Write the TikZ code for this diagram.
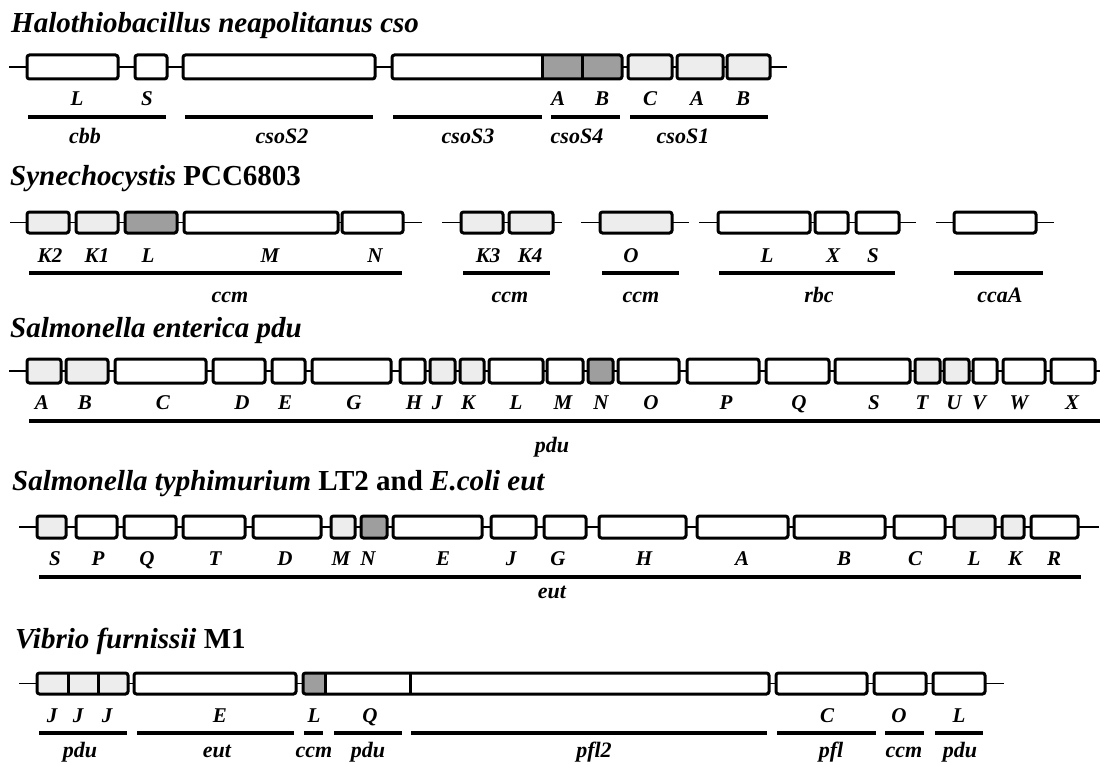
\documentclass[tikz,border=0pt]{standalone}
\usepackage{fontspec}
\setmainfont{Liberation Serif}
\usepackage{tikz}
\definecolor{shelllight}{gray}{0.93}
\definecolor{shelldark}{gray}{0.62}

\tikzset{
  genebox/.style={draw, line width=3pt, rounded corners=2.5pt, fill=white},
  backbone/.style={line width=1.5pt},
  opbar/.style={line width=4pt},
  genelbl/.style={anchor=base, inner sep=0pt, font=\fontsize{21}{24}\selectfont\bfseries\itshape},
  grplbl/.style={anchor=base, inner sep=0pt, font=\fontsize{22}{25}\selectfont\bfseries\itshape},
  orgtitle/.style={anchor=base west, inner sep=0pt, font=\fontsize{29}{33}\selectfont\bfseries}
}

\begin{document}
\begin{tikzpicture}[x=1pt, y=-1pt]
  \useasboundingbox (0,0) rectangle (1100,765);

  % Halothiobacillus
  \node[orgtitle] (t1) at (11,33) {\textit{Halothiobacillus neapolitanus cso}};
  \coordinate (r1s) at (9,67);
  \coordinate (r1e) at (787,67);
  \draw[backbone] (r1s) -- (r1e);
  \foreach \a/\b/\f in {27/118/white, 135/167/white, 183/375/white,
      628/672/shelllight, 677/723/shelllight, 727/770/shelllight}
    \draw[genebox, fill=\f] (\a,55) rectangle (\b,79);
  \fill[white] (392,55) rectangle (542,79);
  \fill[shelldark] (542,55) rectangle (622,79);
  \draw[genebox, fill=none] (392,55) rectangle (622,79);
  \draw[line width=3pt] (542,55) -- (542,79) (582,55) -- (582,79);
  \foreach \x/\t in {77/L, 147/S, 558/A, 602/B, 650/C, 697/A, 743/B}
    \node[genelbl] (r1l\x) at (\x,106) {\t};
  \foreach \a/\b/\x/\t in {28/166/85/cbb, 185/373/282/csoS2, 393/542/468/csoS3,
      551/620/577/csoS4, 630/768/683/csoS1}{
    \draw[opbar] (\a,117) -- (\b,117);
    \node[grplbl] (r1g\x) at (\x,143) {\t};
  }

  % Synechocystis
  \node[orgtitle] (t2) at (10,185) {\textit{Synechocystis} \upshape PCC6803};
  \foreach \a/\b in {10/422, 442/562, 581/689, 699/916, 936/1054}
    \draw[backbone] (\a,222.5) -- (\b,222.5);
  \foreach \a/\b/\f in {27/69/shelllight, 76/118/shelllight, 125/177/shelldark,
      184/338/white, 342/403/white, 461/503/shelllight, 509/553/shelllight,
      600/672/shelllight, 718/810/white, 815/848/white, 856/899/white, 954/1036/white}
    \draw[genebox, fill=\f] (\a,212) rectangle (\b,233);
  \foreach \x/\t in {50/K2, 97/K1, 148/L, 270/M, 375/N, 488/K3, 530/K4,
      631/O, 767/L, 833/X, 873/S}
    \node[genelbl] (r2l\x) at (\x,262) {\t};
  \foreach \a/\b/\x/\t in {29/402/230/ccm, 463/550/510/ccm, 602/679/641/ccm,
      719/895/819/rbc, 954/1043/1000/ccaA}{
    \draw[opbar] (\a,273) -- (\b,273);
    \node[grplbl] (r2g\x) at (\x,302) {\t};
  }

  % Salmonella enterica
  \node[orgtitle] (t3) at (10,337) {\textit{Salmonella enterica pdu}};
  \coordinate (r3s) at (9,371);
  \coordinate (r3e) at (1100,371);
  \draw[backbone] (r3s) -- (r3e);
  \foreach \a/\b/\f in {27/61/shelllight, 66/108/shelllight, 115/206/white,
      213/265/white, 272/305/white, 312/391/white, 400/425/white,
      430/455/shelllight, 460/484/shelllight, 489/543/white, 547/583/white,
      588/613/shelldark, 618/679/white, 687/759/white, 766/829/white,
      835/910/white, 915/940/shelllight, 944/969/shelllight, 973/997/white,
      1003/1045/white, 1051/1095/white}
    \draw[genebox, fill=\f] (\a,359) rectangle (\b,383);
  \foreach \x/\t in {42/A, 85/B, 163/C, 242/D, 285/E, 354/G, 414/H, 437/J,
      468/K, 516/L, 563/M, 601/N, 651/O, 726/P, 799/Q, 874/S, 922/T,
      954/U, 979/V, 1019/W, 1072/X}
    \node[genelbl] (r3l\x) at (\x,409) {\t};
  \draw[opbar] (29,421) -- (1100,421);
  \node[grplbl] (r3g) at (552,452) {pdu};

  % Salmonella typhimurium / E. coli
  \node[orgtitle] (t4) at (12,490)
    {\textit{Salmonella typhimurium} \upshape LT2 and \itshape E.coli eut};
  \coordinate (r4s) at (19,527);
  \coordinate (r4e) at (1099,527);
  \draw[backbone] (r4s) -- (r4e);
  \foreach \a/\b/\f in {37/66/shelllight, 76/117/white, 124/176/white,
      183/245/white, 253/321/white, 331/355/shelllight, 361/387/shelldark,
      393/482/white, 491/536/white, 544/586/white, 599/686/white,
      697/788/white, 794/885/white, 894/945/white, 954/995/shelllight,
      1002/1024/shelllight, 1031/1078/white}
    \draw[genebox, fill=\f] (\a,516) rectangle (\b,538);
  \foreach \x/\t in {55/S, 98/P, 147/Q, 215/T, 285/D, 341/M, 368/N, 443/E,
      511/J, 558/G, 644/H, 742/A, 844/B, 915/C, 974/L, 1015/K, 1054/R}
    \node[genelbl] (r4l\x) at (\x,565) {\t};
  \draw[opbar] (39,577) -- (1081,577);
  \node[grplbl] (r4g) at (552,598) {eut};

  % Vibrio furnissii
  \node[orgtitle] (t5) at (15,648) {\textit{Vibrio furnissii} \upshape M1};
  \coordinate (r5s) at (19,683.5);
  \coordinate (r5e) at (1004,683.5);
  \draw[backbone] (r5s) -- (r5e);
  \draw[genebox, fill=shelllight] (37,673) rectangle (128,694);
  \draw[line width=3pt] (68,673) -- (68,694) (98,673) -- (98,694);
  \draw[genebox] (134,673) rectangle (296,694);
  \fill[white] (303,673) rectangle (769,694);
  \fill[shelldark] (303,673) rectangle (325,694);
  \draw[genebox, fill=none] (303,673) rectangle (769,694);
  \draw[line width=3pt] (325,673) -- (325,694) (410,673) -- (410,694);
  \foreach \a/\b in {776/867, 874/926, 933/985}
    \draw[genebox] (\a,673) rectangle (\b,694);
  \foreach \x/\t in {52/J, 78/J, 107/J, 220/E, 314/L, 370/Q, 827/C, 899/O, 959/L}
    \node[genelbl] (r5l\x) at (\x,722) {\t};
  \foreach \a/\b/\x/\t in {39/127/80/pdu, 137/294/217/eut, 304/323/314/ccm,
      334/402/368/pdu, 411/767/594/pfl2, 777/876/831/pfl, 885/924/904/ccm,
      935/983/960/pdu}{
    \draw[opbar] (\a,733) -- (\b,733);
    \node[grplbl] (r5g\x) at (\x,757) {\t};
  }
\end{tikzpicture}
\end{document}
